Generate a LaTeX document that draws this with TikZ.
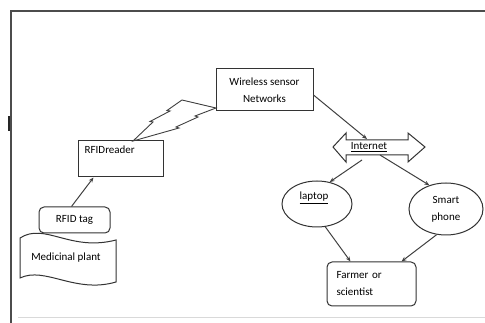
\documentclass[tikz,border=0pt]{standalone}
\usepackage{fontspec}
\setmainfont{Carlito}
\usetikzlibrary{arrows.meta,shapes.geometric}
\begin{document}
\begin{tikzpicture}[x=1pt,y=-1pt,
  every node/.style={font=\fontsize{11}{17}\selectfont, text=black},
  ln/.style={draw=black!80, line width=1pt},
  box/.style={ln, fill=white, inner sep=0pt},
  rbox/.style={ln, fill=white, rounded corners=5pt, inner sep=0pt},
  oval/.style={ln, fill=white, ellipse, inner sep=0pt},
  arr/.style={draw=black!75, line width=1pt, -{Stealth[length=5pt,width=4pt]}}]
\useasboundingbox (0,0) rectangle (485,323);
% frame
\draw[black!70, line width=1.2pt] (11,323) -- (11,11) -- (485,11);
\fill[black!85] (7.5,116) rectangle (10,131);
\draw[black!15, line width=0.8pt] (18,317) -- (485,317);
% Medicinal plant (tape)
\draw[ln, fill=white] (20,238) .. controls (45,222) and (70,252) .. (116,240)
  -- (116,282) .. controls (75,294) and (45,266) .. (20,278) -- cycle;
\node (plant) at (66,258) {Medicinal plant};
% RFID tag
\node[rbox, minimum width=71pt, minimum height=26pt] (tag) at (74.5,220) {RFID tag};
% RFID reader
\node[box, minimum width=85pt, minimum height=36pt,
  label={[anchor=north west, inner sep=0pt, xshift=7pt, yshift=-5pt]north west:RFIDreader}]
  (reader) at (120.5,159) {};
% Wireless sensor networks
\node[box, minimum width=97pt, minimum height=42pt, align=center] (wsn) at (264.5,90)
  {Wireless sensor\\Networks};
% lightning
\draw[black!75, line width=0.9pt, line join=miter]
  (133,141) -- (153,122) -- (150,121.5) -- (170,111) -- (167,110.5) -- (182,100)
  -- (216,108) -- (195,116) -- (198,117) -- (176,127) -- (179,128) -- cycle;
% Internet double arrow
\draw[ln, fill=white] (333,147) -- (346,133) -- (346,140) -- (408,140) -- (408,133)
  -- (425,147) -- (408,162) -- (408,155) -- (346,155) -- (346,162) -- cycle;
\node[inner sep=0pt] (inet) at (369,147) {\underline{Internet}};
\coordinate (inetN) at (367,139);
\coordinate (inetSW) at (362,160);
\coordinate (inetSE) at (380,155);
% laptop, smart phone
\node[oval, minimum width=70pt, minimum height=46pt] (laptop) at (317,204) {};
\node at (314,198) {\underline{laptop}};
\node[oval, minimum width=74pt, minimum height=52pt, align=center] (phone) at (446,209)
  {Smart\\phone};
% Farmer
\node[rbox, minimum width=89pt, minimum height=44pt, align=left, text width=70pt]
  (farmer) at (371.5,284) {Farmer or\\scientist};
% connectors
\draw[arr] ([xshift=-3pt]tag.north) -- ([xshift=-27pt]reader.south);
\draw[arr] ([yshift=-5pt]wsn.east) -- (inetN);
\draw[arr] (inetSW) -- (laptop.60);
\draw[arr] (inetSE) -- (phone.125);
\draw[arr] (laptop.-70) -- ([xshift=-21pt]farmer.north);
\draw[arr] (phone.-110) -- ([xshift=30pt]farmer.north);
\end{tikzpicture}
\end{document}
